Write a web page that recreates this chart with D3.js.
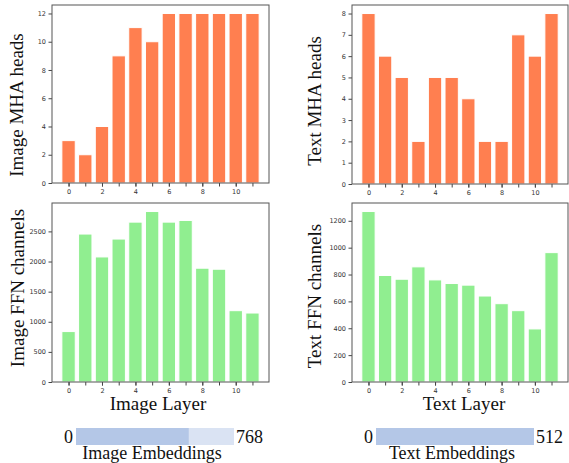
<!DOCTYPE html>
<html>
<head>
<meta charset="utf-8">
<script src="https://cdn.jsdelivr.net/npm/d3@7"></script>
<style>
  body { margin: 0; background: #fff; }
  svg { display: block; }
  .tick text { font-family: 'DejaVu Sans', sans-serif; font-size: 6.5px; fill: #333; }
  .tick line { stroke: #444; }
  .serif { font-family: 'Liberation Serif', 'Times New Roman', serif; fill: #111; }
</style>
</head>
<body>
<div id="chart"></div>
<script>
// layer indices shared by all four panels
const layers = [0, 1, 2, 3, 4, 5, 6, 7, 8, 9, 10, 11];
const layerTickLabels = [0, 2, 4, 6, 8, 10];

const imageMhaHeads = [3, 2, 4, 9, 11, 10, 12, 12, 12, 12, 12, 12];
const textMhaHeads = [8, 6, 5, 2, 5, 5, 4, 2, 2, 7, 6, 8];
const imageFfnChannels = [837, 2456, 2076, 2373, 2654, 2830, 2654, 2682, 1889, 1872, 1184, 1145];
const textFfnChannels = [1269, 793, 765, 857, 760, 733, 721, 640, 583, 531, 395, 963];

const imageMhaTicks = [0, 2, 4, 6, 8, 10, 12];
const textMhaTicks = [0, 1, 2, 3, 4, 5, 6, 7, 8];
const imageFfnTicks = [0, 500, 1000, 1500, 2000, 2500];
const textFfnTicks = [0, 200, 400, 600, 800, 1000, 1200];

const imageEmbedTotal = 768;
const imageEmbedKept = 548;
const textEmbedTotal = 512;
const textEmbedKept = 512;

const width = 569;
const height = 463;

const svg = d3.select('#chart')
  .append('svg')
  .attr('width', width)
  .attr('height', height);

const panels = [
  { values: imageMhaHeads, ticks: imageMhaTicks, color: '#ff7f50', box: [52, 5, 269, 183],
    ylabel: 'Image MHA heads', ylx: 23, yly: 105 },
  { values: textMhaHeads, ticks: textMhaTicks, color: '#ff7f50', box: [352, 5, 568, 184],
    ylabel: 'Text MHA heads', ylx: 321, yly: 101 },
  { values: imageFfnChannels, ticks: imageFfnTicks, color: '#90ee90', box: [52, 203, 269, 382],
    ylabel: 'Image FFN channels', ylx: 24, yly: 288, xlabel: 'Image Layer', xlx: 158 },
  { values: textFfnChannels, ticks: textFfnTicks, color: '#90ee90', box: [352, 203, 568, 382],
    ylabel: 'Text FFN channels', ylx: 321, yly: 296, xlabel: 'Text Layer', xlx: 464 },
];

panels.forEach(p => {
  const [x0, y0, x1, y1] = p.box;

  // matplotlib-like limits: bars span i±0.4, 5% margin on x, 5% headroom on y
  const x = d3.scaleLinear().domain([-0.99, 11.99]).range([x0, x1]);
  const y = d3.scaleLinear().domain([0, d3.max(p.values) * 1.05]).range([y1, y0]);

  svg.append('g')
    .selectAll('rect')
    .data(p.values)
    .enter()
    .append('rect')
    .attr('x', (d, i) => x(layers[i] - 0.4))
    .attr('width', x(0.4) - x(-0.4))
    .attr('y', d => y(d))
    .attr('height', d => y(0) - y(d))
    .attr('fill', p.color)
    .attr('stroke', '#fff')
    .attr('stroke-width', 1);

  // tick marks on every layer, labels only on even ones
  svg.append('g')
    .attr('transform', `translate(0,${y1})`)
    .call(d3.axisBottom(x)
      .tickValues(layers)
      .tickFormat(() => '')
      .tickSize(3.5))
    .call(g => g.select('.domain').remove())
    .call(g => g.selectAll('text').remove());

  svg.append('g')
    .attr('transform', `translate(0,${y1})`)
    .call(d3.axisBottom(x)
      .tickValues(layerTickLabels)
      .tickFormat(d3.format('d'))
      .tickSize(3.5)
      .tickPadding(2.5))
    .call(g => g.select('.domain').remove());

  svg.append('g')
    .attr('transform', `translate(${x0},0)`)
    .call(d3.axisLeft(y)
      .tickValues(p.ticks)
      .tickFormat(d3.format('d'))
      .tickSize(3.5)
      .tickPadding(2.5))
    .call(g => g.select('.domain').remove());

  svg.append('rect')
    .attr('x', x0)
    .attr('y', y0)
    .attr('width', x1 - x0)
    .attr('height', y1 - y0)
    .attr('fill', 'none')
    .attr('stroke', '#555')
    .attr('stroke-width', 1);

  svg.append('text')
    .attr('class', 'serif')
    .attr('transform', `translate(${p.ylx},${p.yly}) rotate(-90)`)
    .attr('text-anchor', 'middle')
    .attr('font-size', '19px')
    .text(p.ylabel);

  if (p.xlabel) {
    svg.append('text')
      .attr('class', 'serif')
      .attr('x', p.xlx)
      .attr('y', 410)
      .attr('text-anchor', 'middle')
      .attr('font-size', '19px')
      .text(p.xlabel);
  }
});

// embedding width bars
const embeds = [
  { total: imageEmbedTotal, kept: imageEmbedKept, range: [76, 234], label: 'Image Embeddings', lx: 152 },
  { total: textEmbedTotal, kept: textEmbedKept, range: [376, 534], label: 'Text Embeddings', lx: 452 },
];

embeds.forEach(e => {
  const x = d3.scaleLinear().domain([0, e.total]).range(e.range);
  const g = svg.append('g');

  g.append('rect')
    .attr('x', x(0))
    .attr('y', 428)
    .attr('width', x(e.total) - x(0))
    .attr('height', 17)
    .attr('fill', '#dae3f3');

  g.append('rect')
    .attr('x', x(0))
    .attr('y', 428)
    .attr('width', x(e.kept) - x(0))
    .attr('height', 17)
    .attr('fill', '#b4c7e7');

  g.append('text')
    .attr('class', 'serif')
    .attr('x', x(0) - 3)
    .attr('y', 443)
    .attr('text-anchor', 'end')
    .attr('font-size', '18px')
    .text(0);

  g.append('text')
    .attr('class', 'serif')
    .attr('x', x(e.total) + 2)
    .attr('y', 443)
    .attr('font-size', '18px')
    .text(e.total);

  g.append('text')
    .attr('class', 'serif')
    .attr('x', e.lx)
    .attr('y', 459)
    .attr('text-anchor', 'middle')
    .attr('font-size', '18px')
    .text(e.label);
});
</script>
</body>
</html>
